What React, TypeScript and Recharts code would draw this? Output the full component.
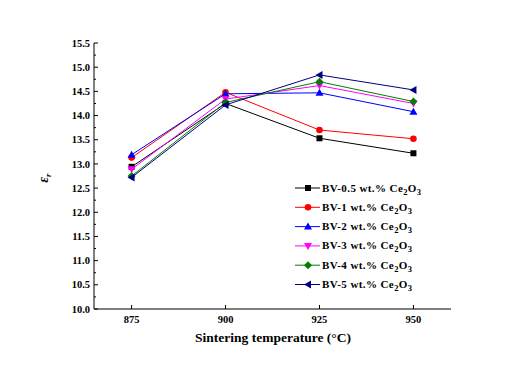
import React from "react";
import { LineChart, Line, XAxis, YAxis } from "recharts";

// ── Data ────────────────────────────────────────────────────────────
const temps = [875, 900, 925, 950];
const bv05 = [12.94, 14.25, 13.53, 13.22];
const bv1 = [13.13, 14.48, 13.7, 13.52];
const bv2 = [13.19, 14.45, 14.47, 14.08];
const bv3 = [12.89, 14.34, 14.62, 14.25];
const bv4 = [12.75, 14.27, 14.7, 14.29];
const bv5 = [12.72, 14.22, 14.84, 14.53];

const xTicks = [875, 900, 925, 950];
const yMajorTicks = [10, 10.5, 11, 11.5, 12, 12.5, 13, 13.5, 14, 14.5, 15, 15.5];
const yMinorTicks = [10.25, 10.75, 11.25, 11.75, 12.25, 12.75, 13.25, 13.75, 14.25, 14.75, 15.25];

const FONT = '"Liberation Serif", "Times New Roman", serif';

type Shape = "square" | "circle" | "up" | "down" | "diamond" | "left";

const SERIES: { key: string; label: string; values: number[]; color: string; shape: Shape }[] = [
  { key: "s05", label: "BV-0.5 wt.% ", values: bv05, color: "#000000", shape: "square" },
  { key: "s1", label: "BV-1 wt.% ", values: bv1, color: "#ff0000", shape: "circle" },
  { key: "s2", label: "BV-2 wt.% ", values: bv2, color: "#0000ff", shape: "up" },
  { key: "s3", label: "BV-3 wt.% ", values: bv3, color: "#ff00ff", shape: "down" },
  { key: "s4", label: "BV-4 wt.% ", values: bv4, color: "#008000", shape: "diamond" },
  { key: "s5", label: "BV-5 wt.% ", values: bv5, color: "#000080", shape: "left" },
];

const data = temps.map((t, i) => {
  const row: Record<string, number> = { t };
  SERIES.forEach((s) => (row[s.key] = s.values[i]));
  return row;
});

function Marker({ cx, cy, shape, color }: { cx: number; cy: number; shape: Shape; color: string }) {
  const r = 3.5;
  switch (shape) {
    case "square":
      return <rect x={cx - 3} y={cy - 3} width={6} height={6} fill={color} />;
    case "circle":
      return <circle cx={cx} cy={cy} r={3.3} fill={color} />;
    case "up":
      return <polygon points={`${cx},${cy - r - 0.5} ${cx - r - 0.5},${cy + r - 0.5} ${cx + r + 0.5},${cy + r - 0.5}`} fill={color} />;
    case "down":
      return <polygon points={`${cx},${cy + r + 0.5} ${cx - r - 0.5},${cy - r + 0.5} ${cx + r + 0.5},${cy - r + 0.5}`} fill={color} />;
    case "diamond":
      return <polygon points={`${cx},${cy - r - 0.5} ${cx + r + 0.5},${cy} ${cx},${cy + r + 0.5} ${cx - r - 0.5},${cy}`} fill={color} />;
    default:
      return <polygon points={`${cx - r - 0.5},${cy} ${cx + r - 0.5},${cy - r - 0.5} ${cx + r - 0.5},${cy + r + 0.5}`} fill={color} />;
  }
}

// tick props x/y sit on the axis line (tickSize and tickMargin are 0)
const YTick = (props: any) => {
  const { x, y, payload } = props;
  const major = yMajorTicks.includes(payload.value);
  return (
    <g>
      <line x1={x} x2={x + (major ? 4 : 2)} y1={y} y2={y} stroke="#000" />
      {major && (
        <text x={x - 4} y={y} dy="0.35em" textAnchor="end" fontFamily={FONT} fontWeight="bold" fontSize={10.5} fill="#000">
          {payload.value.toFixed(1)}
        </text>
      )}
    </g>
  );
};

const XTick = (props: any) => {
  const { x, y, payload } = props;
  return (
    <g>
      <line x1={x} x2={x} y1={y} y2={y - 4} stroke="#000" />
      <text x={x} y={y + 14} textAnchor="middle" fontFamily={FONT} fontWeight="bold" fontSize={10.5} fill="#000">
        {payload.value}
      </text>
    </g>
  );
};

function LegendBox() {
  const top = 188;
  const step = 19.3;
  return (
    <svg width={526} height={374} style={{ position: "absolute", left: 0, top: 0, pointerEvents: "none" }}>
      {SERIES.map((s, i) => {
        const y = top + i * step;
        return (
          <g key={s.key}>
            <line x1={295} x2={320} y1={y} y2={y} stroke={s.color} strokeWidth={1} />
            <Marker cx={308} cy={y} shape={s.shape} color={s.color} />
            <text x={322} y={y + 3.5} fontFamily={FONT} fontWeight="bold" fontSize={11} letterSpacing={0.4} fill="#000">
              {s.label}Ce
              <tspan fontSize={8.5} dy={3}>2</tspan>
              <tspan dy={-3}>O</tspan>
              <tspan fontSize={8.5} dy={3}>3</tspan>
            </text>
          </g>
        );
      })}
    </svg>
  );
}

export default function App() {
  return (
    <div style={{ position: "absolute", left: 0, top: 0, width: 526, height: 374, background: "#fff" }}>
      <LineChart width={526} height={374} data={data} margin={{ top: 43, right: 75, bottom: 35, left: 54 }}>
        <XAxis
          dataKey="t"
          type="number"
          domain={[865, 960]}
          ticks={xTicks}
          height={30}
          tickSize={0}
          tickMargin={0}
          tickLine={false}
          axisLine={{ stroke: "#000" }}
          tick={<XTick />}
          interval={0}
          label={{
            content: () => (
              <text x={273} y={342} textAnchor="middle" fontFamily={FONT} fontWeight="bold" fontSize={13.5} fill="#000">
                Sintering temperature (°C)
              </text>
            ),
          }}
        />
        <XAxis xAxisId="top" orientation="top" dataKey="t" type="number" domain={[865, 960]} height={0} tick={false} tickLine={false} axisLine={{ stroke: "#000" }} />
        <YAxis
          type="number"
          domain={[10, 15.5]}
          ticks={[...yMajorTicks, ...yMinorTicks].sort((a, b) => a - b)}
          width={40}
          tickSize={0}
          tickMargin={0}
          tickLine={false}
          axisLine={{ stroke: "#000" }}
          tick={<YTick />}
          interval={0}
          label={{
            content: () => (
              <text transform="translate(48,178) rotate(-90)" textAnchor="middle" fontFamily={FONT} fontWeight="bold" fill="#000">
                <tspan fontStyle="italic" fontSize={14}>ε</tspan>
                <tspan fontStyle="italic" fontSize={9} dy={3}>r</tspan>
              </text>
            ),
          }}
        />
        <YAxis yAxisId="right" orientation="right" type="number" domain={[10, 15.5]} width={0} tick={false} tickLine={false} axisLine={{ stroke: "#000" }} />
        {SERIES.map((s) => (
          <Line
            key={s.key}
            dataKey={s.key}
            stroke={s.color}
            strokeWidth={1}
            isAnimationActive={false}
            dot={(p: any) => <Marker key={`${s.key}-${p.index}`} cx={p.cx} cy={p.cy} shape={s.shape} color={s.color} />}
            activeDot={false}
          />
        ))}
      </LineChart>
      <LegendBox />
    </div>
  );
}
